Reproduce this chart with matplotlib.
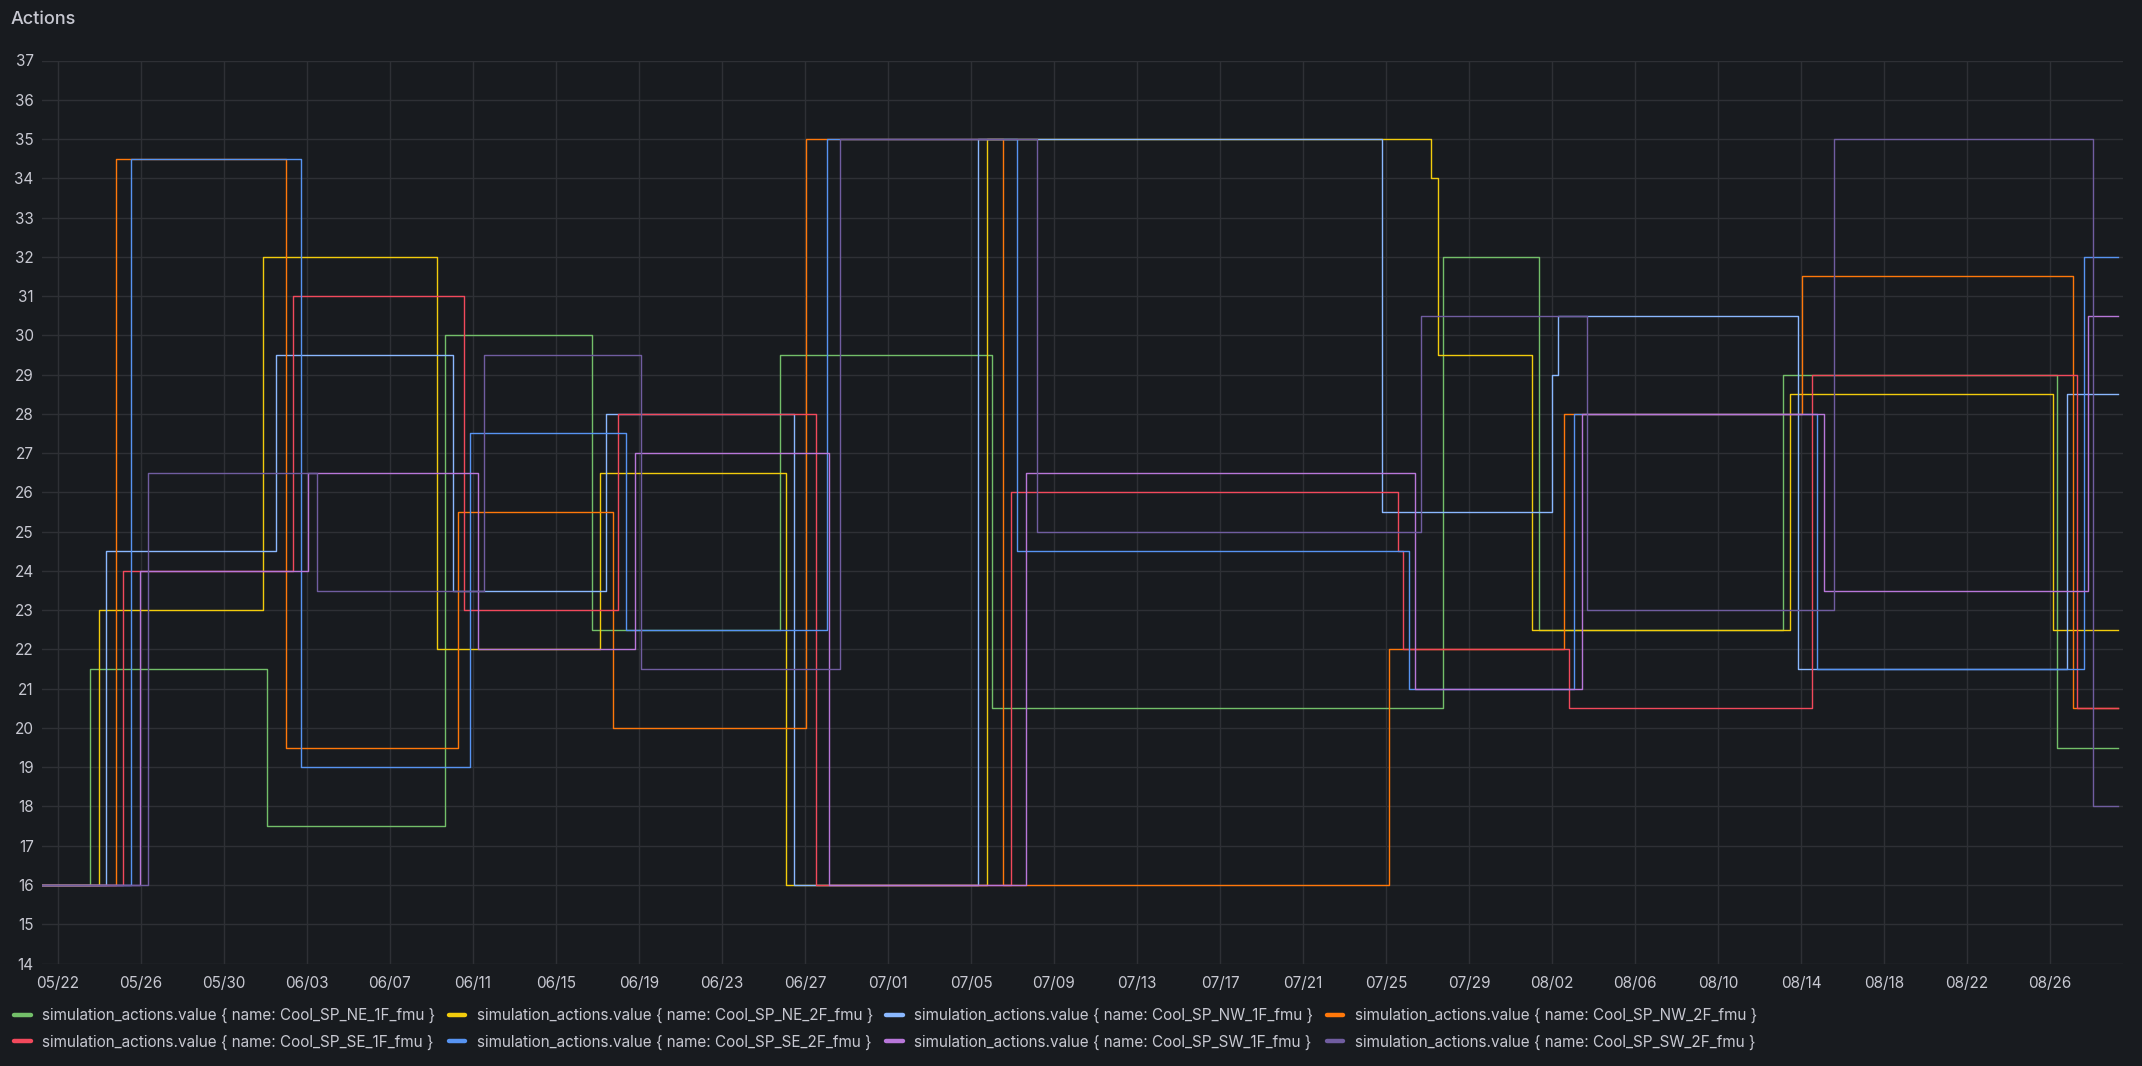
import pandas as pd
import matplotlib
matplotlib.use('Agg')
import matplotlib.pyplot as plt
import matplotlib.dates as mdates
from matplotlib.lines import Line2D

plt.rcParams['font.family'] = ['Inter', 'DejaVu Sans']

# step change times in days after 05/22 00:00, and the value held from that time
start = pd.Timestamp('2024-05-22')

t_ne_1f = [-0.77, 1.53, 10.09, 18.63, 25.75, 34.78, 45.03, 66.73, 71.39, 83.15, 96.36, 99.26]
v_ne_1f = [16, 21.5, 17.5, 30, 22.5, 29.5, 20.5, 32, 22.5, 29, 19.5, 19.5]

t_ne_2f = [-0.77, 1.96, 9.86, 18.25, 26.10, 35.10, 44.76, 66.15, 66.52, 71.02, 83.45, 96.17, 99.26]
v_ne_2f = [16, 23, 32, 22, 26.5, 16, 35, 34, 29.5, 22.5, 28.5, 22.5, 22.5]

t_nw_1f = [-0.77, 2.33, 10.52, 19.02, 26.42, 35.49, 44.32, 63.82, 71.98, 72.31, 83.88, 96.80, 99.26]
v_nw_1f = [16, 24.5, 29.5, 23.5, 28, 16, 35, 25.5, 29, 30.5, 21.5, 28.5, 28.5]

t_nw_2f = [-0.77, 2.78, 10.97, 19.30, 26.77, 36.07, 45.52, 64.17, 72.56, 84.06, 97.09, 99.26]
v_nw_2f = [16, 34.5, 19.5, 25.5, 20, 35, 16, 22, 28, 31.5, 20.5, 20.5]

t_se_1f = [-0.77, 3.12, 11.34, 19.56, 27.00, 36.51, 45.91, 64.56, 64.84, 72.80, 84.51, 97.32, 99.26]
v_se_1f = [16, 24, 31, 23, 28, 16, 26, 24.5, 22, 20.5, 29, 20.5, 20.5]

t_se_2f = [-0.77, 3.53, 11.73, 19.88, 27.39, 37.08, 46.23, 65.09, 73.08, 84.79, 97.62, 99.26]
v_se_2f = [16, 34.5, 19, 27.5, 22.5, 35, 24.5, 21, 28, 21.5, 32, 32]

t_sw_1f = [-0.77, 3.94, 12.07, 20.23, 27.82, 37.17, 46.65, 65.42, 73.43, 85.09, 97.81, 99.26]
v_sw_1f = [16, 24, 26.5, 22, 27, 16, 26.5, 21, 28, 23.5, 30.5, 30.5]

t_sw_2f = [-0.77, 4.33, 12.46, 20.53, 28.12, 37.70, 47.20, 65.70, 73.69, 85.61, 98.09, 99.26]
v_sw_2f = [16, 26.5, 23.5, 29.5, 21.5, 35, 25, 30.5, 23, 35, 18, 18]

names = ['Cool_SP_NE_1F_fmu', 'Cool_SP_NE_2F_fmu', 'Cool_SP_NW_1F_fmu', 'Cool_SP_NW_2F_fmu',
         'Cool_SP_SE_1F_fmu', 'Cool_SP_SE_2F_fmu', 'Cool_SP_SW_1F_fmu', 'Cool_SP_SW_2F_fmu']
times = [t_ne_1f, t_ne_2f, t_nw_1f, t_nw_2f, t_se_1f, t_se_2f, t_sw_1f, t_sw_2f]
values = [v_ne_1f, v_ne_2f, v_nw_1f, v_nw_2f, v_se_1f, v_se_2f, v_sw_1f, v_sw_2f]
colors = ['#73BF69', '#F2CC0C', '#8AB8FF', '#FF780A', '#F2495C', '#5794F2', '#B877D9', '#705DA0']

bg = '#181b1f'
txt = '#c7c8d1'
grid = '#2e3035'

fig = plt.figure(figsize=(21.42, 10.66), dpi=100, facecolor=bg)
ax = fig.add_axes([42/2142, 1-963.5/1066, (2123-42)/2142, (963.5-60.5)/1066])
ax.set_facecolor(bg)

for t, v, c in zip(times, values, colors):
    x = start + pd.to_timedelta(t, unit='D')
    ax.plot(x, v, drawstyle='steps-post', color=c, lw=1.0)

ax.set_ylim(14, 37)
ax.set_yticks(range(14, 38))
ax.set_xlim(start + pd.Timedelta(days=-0.77), start + pd.Timedelta(days=99.52))
ax.set_xticks(pd.date_range('2024-05-22', '2024-08-26', freq='4D'))
ax.xaxis.set_major_formatter(mdates.DateFormatter('%m/%d'))

ax.grid(True, color=grid, lw=1.0)
ax.set_axisbelow(True)
for s in ax.spines.values():
    s.set_visible(False)
ax.tick_params(axis='both', length=0, colors=txt, labelsize=11)
ax.tick_params(axis='y', pad=6)
ax.tick_params(axis='x', pad=9)

fig.text(11/2142, 1-19.5/1066, 'Actions', color=txt, fontsize=13, va='center', ha='left', fontweight='medium')

handles = [Line2D([], [], color=c, lw=3.2, solid_capstyle='round') for c in colors]
labels = ['simulation_actions.value { name: %s }' % n for n in names]
# legend fills column by column, so reorder to get rows NE/NW then SE/SW
order = [0, 4, 1, 5, 2, 6, 3, 7]
fig.legend([handles[i] for i in order], [labels[i] for i in order],
           loc='upper left', bbox_to_anchor=(14/2142, 1-1008/1066),
           ncol=4, frameon=False, fontsize=11, labelcolor=txt, handlelength=1.1,
           handletextpad=0.75, columnspacing=0.85, borderpad=0, borderaxespad=0,
           labelspacing=0.75)

fig.savefig('out.png', dpi=100, facecolor=bg)
